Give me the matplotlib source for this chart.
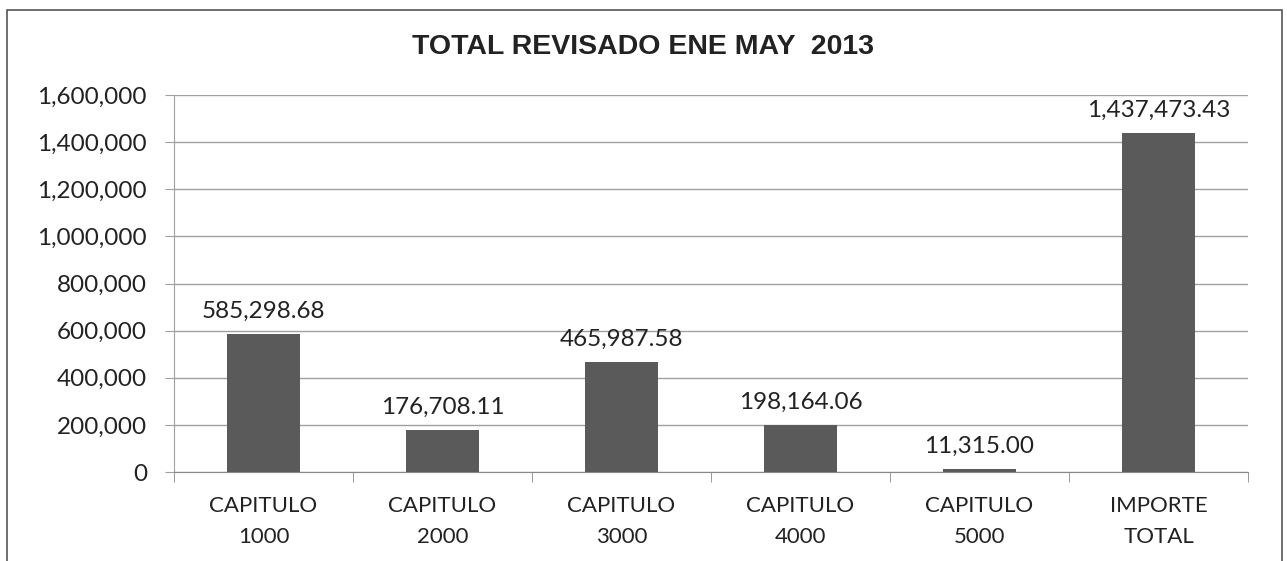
import matplotlib
matplotlib.use("Agg")
import matplotlib.pyplot as plt
from matplotlib.patches import Rectangle
from matplotlib.ticker import FuncFormatter, FixedLocator, NullFormatter

categories = ["CAPITULO\n1000", "CAPITULO\n2000", "CAPITULO\n3000",
              "CAPITULO\n4000", "CAPITULO\n5000", "IMPORTE\nTOTAL"]
values = [585298.68, 176708.11, 465987.58, 198164.06, 11315.00, 1437473.43]
title = "TOTAL REVISADO ENE MAY  2013"

plt.rcParams['font.family'] = ['Lato', 'DejaVu Sans']

fig = plt.figure(figsize=(12.87, 5.61), dpi=100)
ax = fig.add_axes([0.1352, 0.1586, 0.8345, 0.6721])

# outer chart frame
fig.patches.append(Rectangle((7 / 1287, -0.05), 1275 / 1287, 1 - 10 / 561 + 0.05,
                             transform=fig.transFigure, fill=False,
                             edgecolor="#555555", linewidth=1.2))

x = list(range(len(values)))
ax.bar(x, values, width=0.41, color="#5a5a5a", zorder=3)

for xi, v in zip(x, values):
    ax.annotate(f"{v:,.2f}", (xi, v), xytext=(0, 9), textcoords="offset points",
                ha="center", va="bottom", fontsize=17.5, color="#222222")

ax.set_xlim(-0.5, len(values) - 0.5)
ax.set_ylim(0, 1600000)
ax.set_yticks(range(0, 1600001, 200000))
ax.yaxis.set_major_formatter(FuncFormatter(lambda v, p: f"{int(v):,}"))
ax.grid(axis="y", color="#a0a0a0", linewidth=1, zorder=0)

ax.set_xticks(x)
ax.set_xticklabels(categories, fontsize=16, color="#222222", linespacing=1.7)
ax.tick_params(axis="x", length=0, pad=17)
ax.xaxis.set_minor_locator(FixedLocator([i - 0.5 for i in range(len(values) + 1)]))
ax.xaxis.set_minor_formatter(NullFormatter())
ax.tick_params(axis="x", which="minor", length=7, color="#888888")
ax.tick_params(axis="y", labelsize=17.5, labelcolor="#222222", length=6.5,
               color="#a0a0a0", pad=13)

for s in ["top", "right"]:
    ax.spines[s].set_visible(False)
ax.spines["left"].set_color("#a0a0a0")
ax.spines["bottom"].set_color("#888888")

fig.text(0.5, 1 - 47 / 561, title, ha="center", va="center", fontsize=20.5,
         fontweight="bold", family=["Liberation Sans", "DejaVu Sans"], color="#222222")

fig.savefig("out.png", dpi=100)
